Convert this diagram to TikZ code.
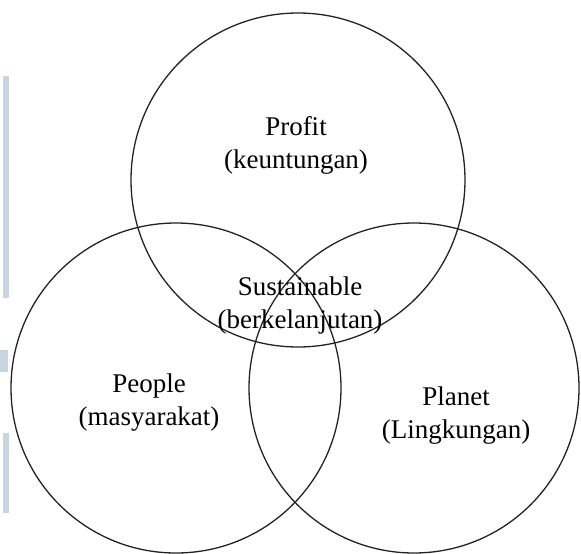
\documentclass[tikz,border=0pt]{standalone}
\usepackage{fontspec}
\setmainfont{Liberation Serif}
\definecolor{wm}{RGB}{200,212,224}
\definecolor{ring}{RGB}{35,35,35}
\begin{document}
\begin{tikzpicture}[x=1pt,y=-1pt,
  ring/.style={circle,draw=ring,line width=1.3pt,inner sep=0pt,minimum size=#1},
  lbl/.style={align=center,font=\fontsize{27}{33}\selectfont,inner sep=0pt}]
\useasboundingbox (0,0) rectangle (581,554);
\fill[white] (0,0) rectangle (581,554);
% faint watermark fragments at the left edge
\fill[wm] (3,76) rectangle (9,298);
\fill[wm] (0,350) rectangle (8,372);
\fill[wm] (3,433) rectangle (9,513);
% circles
\node[ring=334pt] (profitc) at (298,180) {};
\node[ring=330pt] (peoplec) at (176,388) {};
\node[ring=330pt] (planetc) at (414,388) {};
% labels
\node[lbl] (profit) at (296,145) {Profit\\(keuntungan)};
\node[lbl] (sust) at (300,306) {Sustainable\\(berkelanjutan)};
\node[lbl] (people) at (149,403) {People\\(masyarakat)};
\node[lbl] (planet) at (456,416) {Planet\\(Lingkungan)};
\end{tikzpicture}
\end{document}
